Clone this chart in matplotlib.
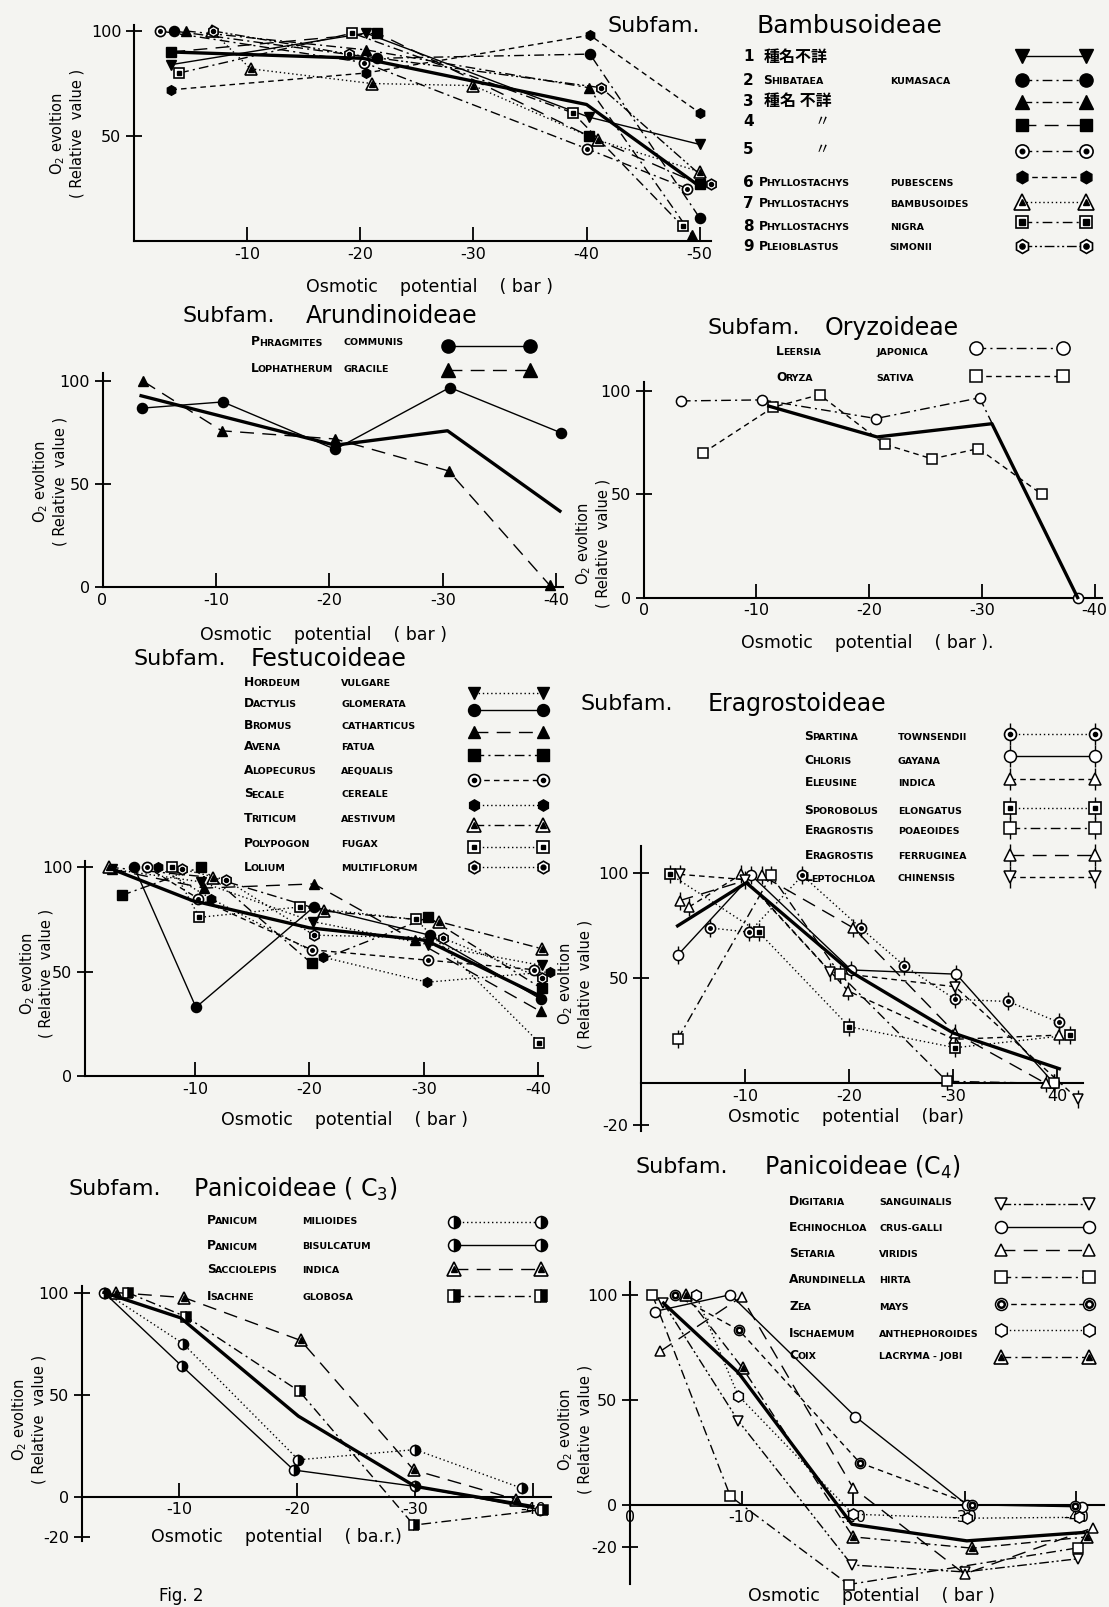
import matplotlib.pyplot as plt

W, H = 1109, 1607
S = 1109 / 1082          # layout was measured on the shrunk picture

plt.rcParams['font.family'] = ['DejaVu Sans', 'Noto Sans CJK JP']
plt.rcParams['axes.unicode_minus'] = False

# ---------------- data (osmotic potential in bar, O2 evolution relative) ----------------
# Subfam. Bambusoideae
bam_no = ['1', '2', '3', '4', '5', '6', '7', '8', '9']
bam_genus = ['種名不詳', 'Shibataea', '種名 不詳', '〃', '〃',
             'Phyllostachys', 'Phyllostachys', 'Phyllostachys', 'Pleioblastus']
bam_species = ['', 'kumasaca', '', '', '', 'pubescens', 'bambusoides', 'nigra', 'simonii']
bam_x = [[-3.3, -20.5, -40.2, -50.0],
         [-3.5, -21.5, -40.3, -50.0],
         [-4.6, -20.5, -40.2, -49.3],
         [-3.3, -21.5, -40.2, -50.0],
         [-2.3, -20.3, -40.0, -48.9],
         [-3.3, -20.5, -40.3, -50.0],
         [-6.9, -10.3, -21.0, -30.0, -41.0, -50.0],
         [-4.0, -19.3, -38.8, -48.5],
         [-7.0, -19.0, -41.3, -51.0]]
bam_y = [[84, 99, 59, 46],
         [100, 87, 89, 11],
         [100, 91, 73, 3],
         [90, 99, 50, 27],
         [100, 85, 44, 25],
         [72, 80, 98, 61],
         [100, 82, 75, 74, 48, 33],
         [80, 99, 61, 7],
         [100, 89, 73, 27]]
bam_mean_x = [-3.3, -20.2, -40.0, -50.0]
bam_mean_y = [90, 87, 65, 26]

# Subfam. Arundinoideae
aru_genus = ['Phragmites', 'Lophatherum']
aru_species = ['communis', 'gracile']
aru_x = [[-3.5, -10.6, -20.5, -30.6, -40.4],
         [-3.6, -10.5, -20.5, -30.5, -39.4]]
aru_y = [[87, 90, 67, 97, 75],
         [100, 76, 72, 56.5, 1]]
aru_mean_x = [-3.4, -20.5, -30.4, -40.3]
aru_mean_y = [93, 69, 76, 37]

# Subfam. Oryzoideae
ory_genus = ['Leersia', 'Oryza']
ory_species = ['japonica', 'sativa']
ory_x = [[-3.3, -10.5, -20.6, -29.8, -38.5],
         [-5.3, -11.5, -15.6, -21.4, -25.6, -29.7, -35.3]]
ory_y = [[95, 95.5, 86.5, 96.5, 0],
         [70, 92, 98, 74, 67, 72, 50]]
ory_mean_x = [-11.1, -20.7, -30.9, -38.5]
ory_mean_y = [92.5, 77.6, 84, 0]

# Subfam. Festucoideae
fes_genus = ['Hordeum', 'Dactylis', 'Bromus', 'Avena', 'Alopecurus',
             'Secale', 'Triticum', 'Polypogon', 'Lolium']
fes_species = ['vulgare', 'glomerata', 'catharticus', 'fatua', 'aequalis',
               'cereale', 'aestivum', 'fugax', 'multiflorum']
fes_x = [[-2.8, -10.5, -20.3, -30.4, -40.3],
         [-4.7, -10.1, -20.4, -30.5, -40.2],
         [-2.8, -10.8, -20.4, -29.2, -40.2],
         [-3.6, -10.5, -20.2, -30.4, -40.3],
         [-5.8, -10.3, -20.2, -30.4, -39.6],
         [-6.8, -11.4, -21.2, -30.3, -41.0],
         [-2.5, -11.6, -21.3, -31.3, -40.3],
         [-8.0, -10.4, -19.2, -29.3, -40.1],
         [-8.9, -12.7, -20.4, -31.7, -40.3]]
fes_y = [[99, 93, 74, 63, 53],
         [100, 33, 81, 67.5, 37],
         [99, 90, 92, 65, 31],
         [86.5, 100, 54, 76, 42],
         [100, 85, 60.5, 55.5, 51],
         [100, 85, 57, 45, 50],
         [100, 95, 79, 74, 61],
         [100, 76, 81, 75, 16],
         [99, 94, 67.5, 66, 47]]
fes_mean_x = [-2.8, -9.8, -20.0, -30.2, -40.3]
fes_mean_y = [99, 84, 71, 65, 38]

# Subfam. Eragrostoideae
era_genus = ['Spartina', 'Chloris', 'Eleusine', 'Sporobolus',
             'Eragrostis', 'Eragrostis', 'Leptochloa']
era_species = ['townsendii', 'gayana', 'indica', 'elongatus',
               'poaeoides', 'ferruginea', 'chinensis']
era_x = [[-6.6, -10.4, -15.5, -21.1, -25.3, -30.2, -35.3, -40.2],
         [-3.5, -10.6, -20.2, -30.3, -39.7],
         [-4.6, -9.6, -19.9, -30.1, -40.2],
         [-2.8, -11.3, -20.0, -30.2, -41.2],
         [-3.5, -12.5, -19.1, -29.4, -39.7],
         [-3.7, -11.6, -20.4, -30.2, -38.9],
         [-3.7, -10.0, -18.2, -30.2, -42.0]]
era_y = [[74, 72, 99, 74, 56, 40, 39, 29],
         [61, 99, 54, 52, 0],
         [84, 99.5, 44, 21, 23],
         [99.5, 72, 27, 17, 23],
         [21, 99, 52, 1, 0],
         [87, 99, 74, 24, 0],
         [99.5, 97, 53, 46, -7.5]]
era_mean_x = [-3.5, -10.1, -20.2, -30.0, -40.2]
era_mean_y = [75, 95.5, 53, 24, 7]

# Subfam. Panicoideae (C3)
pc3_genus = ['Panicum', 'Panicum', 'Sacciolepis', 'Isachne']
pc3_species = ['milioides', 'bisulcatum', 'indica', 'globosa']
pc3_x = [[-3.7, -10.3, -20.1, -30.0, -39.1],
         [-3.6, -10.2, -19.7, -30.0, -40.6],
         [-4.6, -10.4, -20.3, -29.9, -38.6],
         [-5.6, -10.6, -20.2, -29.9, -40.9]]
pc3_y = [[100, 75, 18, 23, 4],
         [100, 64, 13, 5, -6.5],
         [100, 97.5, 76.5, 13, -1.5],
         [100, 88, 51.5, -14, -6.5]]
pc3_mean_x = [-3.6, -10.1, -20.1, -30.0, -40.0]
pc3_mean_y = [100, 87.6, 39.4, 5, -4.9]

# Subfam. Panicoideae (C4)
pc4_genus = ['Digitaria', 'Echinochloa', 'Setaria', 'Arundinella',
             'Zea', 'Ischaemum', 'Coix']
pc4_species = ['sanguinalis', 'crus-galli', 'viridis', 'hirta',
               'mays', 'anthephoroides', 'lacryma - jobi']
pc4_x = [[-3.0, -9.7, -19.9, -30.0, -40.2],
         [-2.2, -9.0, -20.2, -30.2, -40.5],
         [-2.7, -10.0, -20.0, -30.0, -41.5],
         [-2.0, -9.0, -19.6, -40.2],
         [-4.0, -9.8, -20.6, -30.7, -39.9],
         [-5.9, -9.7, -20.0, -30.2, -40.3],
         [-5.0, -10.1, -20.0, -30.7, -41.0]]
pc4_y = [[96, 40, -28.7, -32, -25.7],
         [92, 100, 42, 0, -1],
         [73, 99, 8, -33, -11],
         [100, 4, -38, -20.5],
         [100, 83, 20, 0, -0.5],
         [100, 52, -4.5, -6.4, -6],
         [100, 65, -15.3, -20.7, -15.3]]
pc4_mean_x = [-3.0, -9.7, -19.9, -30.2, -40.7]
pc4_mean_y = [96, 63, -9.3, -17.2, -13.2]

# ---------------- styles ----------------
LS = {'solid': '-', 'dot': (0, (1, 2)), 'dash': (0, (4, 3)),
      'dashdot': (0, (7, 3, 1.5, 3)), 'long': (0, (10, 6)),
      'dashdotdot': (0, (7, 2, 1.5, 2, 1.5, 2))}


def L(m, s=1.0, fc='k', ew=1.0, fs='full'):
    return dict(m=m, s=s, fc=fc, ew=ew, fs=fs)


MK = {
    'v_f': [L('v')], 'o_f': [L('o')], '^_f': [L('^')], 's_f': [L('s', 0.95)],
    'h_f': [L('h', 0.95)],
    'o_dot': [L('o', 1.0, 'w', 1.2), L('o', 0.35)],
    '^_in': [L('^', 1.15, 'w', 1.2), L('^', 0.5)],
    's_dot': [L('s', 0.95, 'w', 1.2), L('s', 0.4)],
    'h_dot': [L('h', 1.05, 'w', 1.2), L('o', 0.4)],
    'o_o': [L('o', 1.0, 'w', 1.1)], 's_o': [L('s', 0.95, 'w', 1.1)],
    '^_o': [L('^', 1.05, 'w', 1.1)], 'v_o': [L('v', 1.05, 'w', 1.1)],
    'h_o': [L('h', 1.1, 'w', 1.1)],
    'ring': [L('o', 1.0, 'w', 1.1), L('o', 0.55, 'w', 1.8)],
    'o_half': [L('o', 1.0, 'k', 1.1, 'right')],
    's_half': [L('s', 0.95, 'k', 1.1, 'right')],
}
for k in ['o_dot', 'o_o', '^_o', 's_dot', 's_o', 'v_o']:
    MK[k + '_v'] = [L('|', 1.8, 'k', 1.0)] + MK[k]

bam_style = [('solid', 'v_f'), ('dashdot', 'o_f'), ('dashdot', '^_f'), ('long', 's_f'),
             ('dashdot', 'o_dot'), ('dash', 'h_f'), ('dot', '^_in'), ('dashdot', 's_dot'),
             ('dashdotdot', 'h_dot')]
aru_style = [('solid', 'o_f'), ('long', '^_f')]
ory_style = [('dashdot', 'o_o'), ('dash', 's_o')]
fes_style = [('dot', 'v_f'), ('solid', 'o_f'), ('long', '^_f'), ('dashdot', 's_f'),
             ('dash', 'o_dot'), ('dot', 'h_f'), ('dashdot', '^_in'), ('dot', 's_dot'),
             ('dot', 'h_dot')]
era_style = [('dot', 'o_dot_v'), ('solid', 'o_o_v'), ('dash', '^_o_v'), ('dot', 's_dot_v'),
             ('dashdot', 's_o_v'), ('long', '^_o_v'), ('dash', 'v_o_v')]
pc3_style = [('dot', 'o_half'), ('solid', 'o_half'), ('long', '^_in'), ('dashdot', 's_half')]
pc4_style = [('dashdotdot', 'v_o'), ('solid', 'o_o'), ('long', '^_o'), ('dashdot', 's_o'),
             ('dash', 'ring'), ('dot', 'h_o'), ('dashdot', '^_in')]


def draw_series(ax, x, y, ls, mk, ms=7.3, lw=1.0, clip=False):
    ax.plot(x, y, color='k', lw=lw, ls=LS[ls], zorder=2, clip_on=clip)
    for ly in MK[mk]:
        ax.plot(x, y, ls='none', marker=ly['m'], ms=ms * ly['s'], mfc=ly['fc'],
                mfcalt='w', fillstyle=ly['fs'], mec='k', mew=ly['ew'],
                zorder=3, clip_on=clip)


fig = plt.figure(figsize=(W / 100, H / 100), dpi=100)
fig.patch.set_facecolor('#f4f4f1')


def panel(box, xlim, ylim, xt, xl, yt, yl):
    l, t, r, b = box
    ax = fig.add_axes([l / W, 1 - b / H, (r - l) / W, (b - t) / H])
    ax.set_facecolor('none')
    ax.set_xlim(*xlim)
    ax.set_ylim(*ylim)
    for s in ['top', 'right']:
        ax.spines[s].set_visible(False)
    ax.spines['bottom'].set_position(('data', 0))
    ax.spines['left'].set_linewidth(1.5)
    ax.spines['bottom'].set_linewidth(1.5)
    ax.set_xticks(xt, xl)
    ax.set_yticks(yt, yl)
    ax.tick_params(axis='x', direction='in', length=10, width=1.3, labelsize=11.5, pad=4)
    ax.tick_params(axis='y', direction='inout', length=12, width=1.3, labelsize=11.5, pad=3)
    return ax


def fill(ax, xs, ys, styles, mx, my):
    for x, y, (ls, mk) in zip(xs, ys, styles):
        draw_series(ax, x, y, ls, mk)
    ax.plot(mx, my, color='k', lw=2.4, zorder=4, clip_on=False)


ax1 = panel((134, 24.7, 711, 241), (0, -51), (0, 103),
            [-10, -20, -30, -40, -50], ['-10', '-20', '-30', '-40', '-50'],
            [50, 100], ['50', '100'])
fill(ax1, bam_x, bam_y, bam_style, bam_mean_x, bam_mean_y)

ax2 = panel((102.5, 373.1, 563.3, 587.3), (0, -40.6), (0, 104),
            [0, -10, -20, -30, -40], ['0', '-10', '-20', '-30', '-40'],
            [0, 50, 100], ['0', '50', '100'])
fill(ax2, aru_x, aru_y, aru_style, aru_mean_x, aru_mean_y)

ax3 = panel((643.7, 382.3, 1102.4, 597.6), (0, -40.7), (0, 104),
            [0, -10, -20, -30, -40], ['0', '-10', '-20', '-30', '-40'],
            [0, 50, 100], ['0', '50', '100'])
fill(ax3, ory_x, ory_y, ory_style, ory_mean_x, ory_mean_y)

ax4 = panel((84.9, 860.9, 542.9, 1076.3), (-0.4, -40.4), (0, 103),
            [-10, -20, -30, -40], ['-10', '-20', '-30', '-40'],
            [0, 50, 100], ['0', '50', '100'])
fill(ax4, fes_x, fes_y, fes_style, fes_mean_x, fes_mean_y)

ax5 = panel((641.2, 846.0, 1083.2, 1130.7), (0, -42.5), (-22.5, 113),
            [-10, -20, -30, -40], ['-10', '-20', '-30', '40'],
            [-20, 50, 100], ['-20', '50', '100'])
fill(ax5, era_x, era_y, era_style, era_mean_x, era_mean_y)

ax6 = panel((81.6, 1286.4, 550.5, 1540.6), (-1.7, -41.5), (-21.6, 103),
            [-10, -20, -30, -40], ['-10', '-20', '-30', '-40'],
            [-20, 0, 50, 100], ['-20', '0', '50', '100'])
fill(ax6, pc3_x, pc3_y, pc3_style, pc3_mean_x, pc3_mean_y)

ax7 = panel((630, 1282.1, 1104, 1583.7), (0, -42.5), (-37.6, 106),
            [0, -10, -20, -30, -40], ['0', '-10', '-20', '-30', '-40'],
            [-20, 0, 50, 100], ['-20', '0', '50', '100'])
fill(ax7, pc4_x, pc4_y, pc4_style, pc4_mean_x, pc4_mean_y)

# ---------------- overlay for titles, labels, legends (pixel coords of reference) ----------------
ov = fig.add_axes([0, 0, 1, 1])
ov.set_xlim(0, W)
ov.set_ylim(H, 0)
ov.axis('off')

CJK = ['Noto Sans CJK JP', 'DejaVu Sans']


def T(x, y, s, **kw):
    kw.setdefault('va', 'center')
    return ov.text(x * S, y * S, s, **kw)


def smallcaps(x, y, word, big=8.8, small=6.8):
    # y is the baseline
    if not word:
        return
    if not word[0].isascii():
        T(x, y + 1, word, fontsize=11.5, family=CJK, fontweight='bold', va='baseline')
        return
    t = T(x, y, word[0].upper(), fontsize=big, fontweight='bold', va='baseline')
    if len(word) > 1:
        # lift by the big letter's descent so both parts share a baseline
        ov.annotate(word[1:].upper(), xy=(1, 0), xycoords=t, xytext=(-0.8, 0.236 * big),
                    textcoords='offset points', fontsize=small, fontweight='bold',
                    va='baseline', ha='left')


def legend_rows(genus, species, styles, gx, sx, rows, mx0, mx1, mrows, ms=8.6):
    for g, sp, st, y, my in zip(genus, species, styles, rows, mrows):
        smallcaps(gx, y + 4, g)
        if sp:
            T(sx, y + 4, sp.upper(), fontsize=6.8, fontweight='bold', va='baseline')
        draw_series(ov, [mx0 * S, mx1 * S], [my * S, my * S], st[0], st[1], ms=ms, lw=1.0)


def title(x1, x2, y, name, fs=17):
    T(x1, y, 'Subfam.', fontsize=16)
    T(x2, y, name, fontsize=fs)


def xlab(cx, y, s='Osmotic    potential    ( bar )'):
    T(cx, y, s, fontsize=12.5, ha='center')


def ylab(cx, cy):
    T(cx, cy, 'O$_2$ evoltion\n( Relative  value )', fontsize=10.5, rotation=90,
      ha='center', linespacing=1.2)


# Bambusoideae
title(593, 738, 25, 'Bambusoideae', fs=18)
brows = [55, 78, 98, 118, 145, 177, 198, 220, 240]
for n, y in zip(bam_no, brows):
    T(725, y + 5, n, fontsize=11, fontweight='bold', va='baseline')
for i, (g, sp, y) in enumerate(zip(bam_genus, bam_species, brows)):
    if g == '〃':
        T(795, y + 5, g, fontsize=11, family=CJK, va='baseline')
    else:
        smallcaps(745 if i < 5 else 740, y + 4, g)
        if sp:
            T(868, y + 4, sp.upper(), fontsize=6.8, fontweight='bold', va='baseline')
for st, y in zip(bam_style, [55, 78, 100, 122, 147, 173, 197, 217, 240]):
    draw_series(ov, [997 * S, 1060 * S], [y * S, y * S], st[0], st[1], ms=9.5, lw=1.0)
xlab(419, 280)
ylab(65, 130)

# Arundinoideae
title(178, 298, 308, 'Arundinoideae')
legend_rows(aru_genus, aru_species, aru_style, 245, 335, [333, 359], 437, 517, [338, 361], ms=9.5)
xlab(316, 620)
ylab(48, 470)

# Oryzoideae
title(690, 805, 320, 'Oryzoideae')
legend_rows(ory_genus, ory_species, ory_style, 757, 855, [342, 368], 952, 1037, [340, 367], ms=9.5)
xlab(846, 627, 'Osmotic    potential    ( bar ).')
ylab(578, 530)

# Festucoideae
title(130, 245, 643, 'Festucoideae')
legend_rows(fes_genus, fes_species, fes_style, 238, 333,
            [665, 686, 707, 728, 751, 774, 798, 822, 846], 462, 530,
            [676, 693, 714, 737, 761, 785, 805, 826, 846])
xlab(336, 1093)
ylab(35, 950)

# Eragrostoideae
title(566, 690, 687, 'Eragrostoideae')
legend_rows(era_genus, era_species, era_style, 785, 876,
            [718, 741, 763, 790, 810, 834, 856], 985, 1068,
            [716, 738, 760, 788, 808, 834, 856])
xlab(825, 1090, 'Osmotic    potential    (bar)')
ylab(560, 960)

# Panicoideae (C3)
title(67, 188, 1160, 'Panicoideae ( C$_3$)')
legend_rows(pc3_genus, pc3_species, pc3_style, 202, 295,
            [1190, 1215, 1238, 1264], 443, 528, [1192, 1215, 1238, 1264])
xlab(270, 1500, 'Osmotic    potential    ( ba.r.)')
ylab(28, 1385)

# Panicoideae (C4)
title(620, 745, 1139, 'Panicoideae (C$_4$)')
legend_rows(pc4_genus, pc4_species, pc4_style, 770, 858,
            [1172, 1197, 1222, 1248, 1274, 1300, 1322], 977, 1062,
            [1175, 1197, 1220, 1246, 1272, 1298, 1324])
xlab(850, 1557)
ylab(560, 1395)

T(155, 1566, 'Fig. 2', fontsize=12, va='bottom')

fig.savefig('out.png', dpi=100, facecolor=fig.get_facecolor())
